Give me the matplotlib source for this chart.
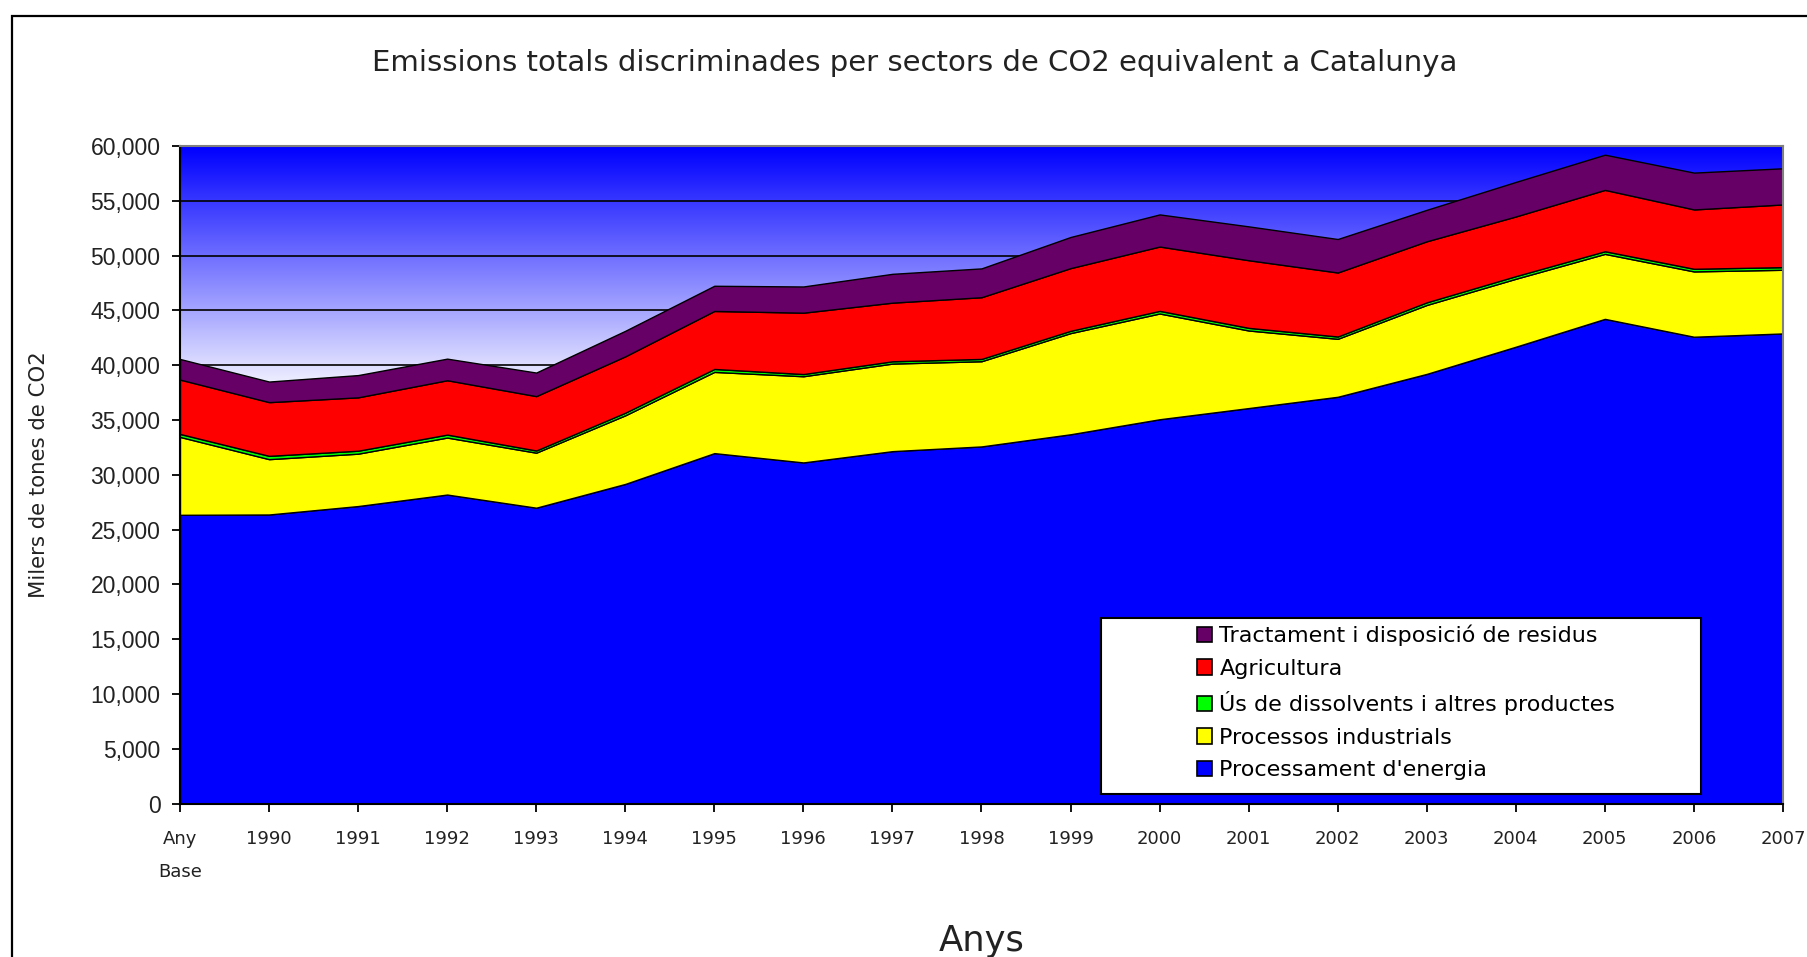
import numpy as np
import matplotlib
matplotlib.use('Agg')
import matplotlib.pyplot as plt
from matplotlib.patches import Patch, Rectangle
from matplotlib.ticker import FuncFormatter

plt.rcParams['font.family'] = ['DejaVu Sans']

# dades (milers de tones de CO2 equivalent)
anys = ['Any\nBase', '1990', '1991', '1992', '1993', '1994', '1995', '1996', '1997',
        '1998', '1999', '2000', '2001', '2002', '2003', '2004', '2005', '2006', '2007']
energia = [26350, 26380, 27150, 28200, 27000, 29170, 31980, 31130, 32160,
           32590, 33700, 35070, 36090, 37120, 39210, 41690, 44230, 42600, 42900]
industrials = [7110, 5050, 4780, 5200, 5020, 6260, 7410, 7865, 7990,
               7775, 9230, 9650, 7080, 5290, 6290, 6200, 5930, 5960, 5810]
dissolvents = [270, 300, 270, 270, 200, 240, 270, 200, 210,
               210, 210, 240, 240, 210, 240, 240, 240, 240, 240]
agricultura = [4960, 4900, 4870, 4960, 4960, 5140, 5290, 5600, 5350,
               5630, 5720, 5870, 6170, 5840, 5570, 5445, 5600, 5415, 5720]
residus = [1880, 1880, 2030, 1970, 2150, 2330, 2300, 2390, 2630,
           2630, 2840, 2930, 3090, 3055, 2870, 3150, 3210, 3360, 3300]

noms = ["Processament d'energia", 'Processos industrials',
        'Ús de dissolvents i altres productes', 'Agricultura',
        'Tractament i disposició de residus']
colors = ['#0000ff', '#ffff00', '#00ff00', '#ff0000', '#660066']

fig = plt.figure(figsize=(18.07, 9.57), dpi=100)
ax = fig.add_axes([0.0996, 0.1603, 0.8871, 0.6871])

x = np.arange(len(anys))

# fons amb degradat blau -> blanc
v = np.linspace(60000, 0, 300)
t = np.clip((60000 - v) / 23000.0, 0, 1)
grad = np.dstack([t, t, np.ones_like(t)]).reshape(-1, 1, 3)
ax.imshow(grad, extent=(0, len(anys) - 1, 0, 60000), aspect='auto',
          origin='upper', zorder=0, interpolation='bilinear')

ax.stackplot(x, energia, industrials, dissolvents, agricultura, residus,
             colors=colors, edgecolor='black', linewidth=1.0, zorder=2)

ax.set_xlim(0, len(anys) - 1)
ax.set_ylim(0, 60000)
ax.set_yticks(np.arange(0, 60001, 5000))
ax.yaxis.set_major_formatter(FuncFormatter(lambda val, p: '{:,.0f}'.format(val)))
ax.set_xticks(x)
ax.set_xticklabels(anys, linespacing=2.1)
ax.yaxis.grid(True, color='black', linewidth=1.2)
ax.set_axisbelow(True)
for gl in ax.get_ygridlines():
    gl.set_zorder(1)

for s in ['left', 'bottom']:
    ax.spines[s].set_color('black')
    ax.spines[s].set_linewidth(1.5)
for s in ['top', 'right']:
    ax.spines[s].set_color('#808080')
    ax.spines[s].set_linewidth(1.5)

ax.tick_params(axis='y', length=6, width=1.3, pad=8, labelsize=16.5, labelcolor='#222222')
ax.tick_params(axis='x', length=6, width=1.3, pad=13, labelsize=13, labelcolor='#222222')
for lab in ax.get_yticklabels():
    lab.set_family('Liberation Sans')

ax.set_ylabel('Milers de tones de CO2', fontsize=15.3, color='#222222', labelpad=30)
ax.set_xlabel('Anys', fontsize=25.5, color='#222222', labelpad=31)

fig.text(915 / 1807, 1 - 63 / 957,
         'Emissions totals discriminades per sectors de CO2 equivalent a Catalunya',
         ha='center', va='center', fontsize=21, color='#222222')

# marc de la figura
fig.add_artist(Rectangle((12 / 1807, -0.05), 1.1, 0.9833 + 0.05,
                         transform=fig.transFigure, fill=False,
                         edgecolor='black', linewidth=1.6))

# llegenda
fig.add_artist(Rectangle((0.6091, 0.1703), 0.3323, 0.1842,
                         transform=fig.transFigure, facecolor='white',
                         edgecolor='black', linewidth=1.5, zorder=3))
handles = [Patch(facecolor=c, edgecolor='black', linewidth=1.2) for c in colors]
fig.legend(handles[::-1], noms[::-1], loc='upper left',
           bbox_to_anchor=(0.6622, 0.347), frameon=False, fontsize=16,
           handlelength=0.68, handleheight=0.68, handletextpad=0.35,
           labelspacing=0.56, borderpad=0, borderaxespad=0)

fig.savefig('out.png', dpi=100)
